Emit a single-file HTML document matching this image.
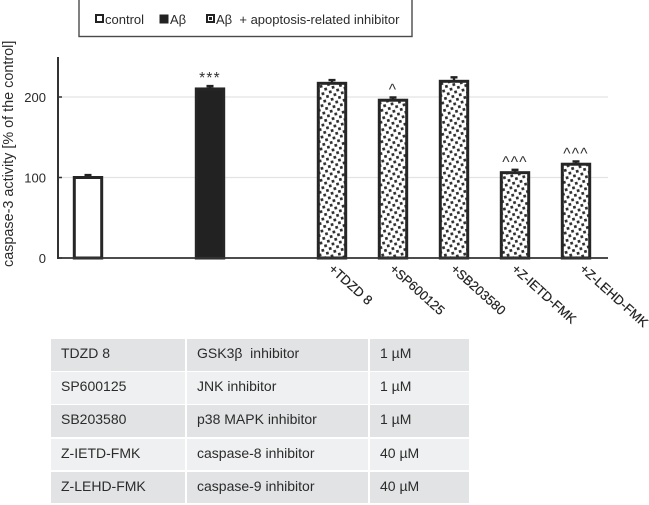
<!DOCTYPE html>
<html lang="en">
<head>
<meta charset="utf-8">
<title>Caspase-3 activity chart</title>
<style>
html,body{margin:0;padding:0;background:#fff;}
body{width:649px;height:505px;position:relative;overflow:hidden;font-family:"Liberation Sans",sans-serif;color:#2b2b2b;}
#chart{position:absolute;left:0;top:0;}
.row{position:absolute;left:51px;width:418px;height:31.5px;font-size:14px;line-height:31px;}
.cell{position:absolute;top:0;height:100%;}
.cell span{position:absolute;left:10px;top:-1px;white-space:pre;}
.c1{left:0;width:134px;}
.c2{left:136px;width:181px;}
.c3{left:319px;width:99px;}
.a .cell{background:#e1e3e5;}
.b .cell{background:#eff0f1;}
</style>
</head>
<body>
<svg id="chart" width="649" height="335" viewBox="0 0 649 335" xmlns="http://www.w3.org/2000/svg">
  <defs>
    <pattern id="dots" width="7.6" height="7.6" patternUnits="userSpaceOnUse" patternTransform="rotate(-14)">
      <rect width="7.6" height="7.6" fill="#fff"/>
      <rect x="0.5" y="0.5" width="2.7" height="2.7" fill="#2e2e2e"/>
      <rect x="4.3" y="4.3" width="2.7" height="2.7" fill="#2e2e2e"/>
    </pattern>
  </defs>
  <rect x="79" y="-2" width="333" height="38.5" fill="#fff" stroke="#4a4a4a" stroke-width="1.4"/>
  <g>
    <rect x="96" y="15" width="7" height="7" fill="#fff" stroke="#222" stroke-width="2"/>
    <text x="105" y="24" font-size="13" fill="#2b2b2b">control</text>
  </g>
  <g>
    <rect x="160" y="15" width="8" height="8" fill="#222" stroke="#222" stroke-width="1"/>
    <text x="170" y="24" font-size="13" fill="#2b2b2b">Aβ</text>
  </g>
  <g>
    <rect x="207" y="15" width="7" height="7" fill="#fff" stroke="#222" stroke-width="2"/>
    <rect x="209" y="17" width="3" height="3" fill="#222"/>
    <text x="216" y="24" font-size="13" fill="#2b2b2b" xml:space="preserve">Aβ  + apoptosis-related inhibitor</text>
  </g>
  <text transform="translate(13,267) rotate(-90)" font-size="14.4" fill="#2b2b2b">caspase-3 activity [% of the control]</text>
  <g id="plot"></g>
</svg>

<div class="row a" style="top:339px"><div class="cell c1"><span>TDZD 8</span></div><div class="cell c2"><span>GSK3β  inhibitor</span></div><div class="cell c3"><span>1 µM</span></div></div>
<div class="row b" style="top:372px"><div class="cell c1"><span>SP600125</span></div><div class="cell c2"><span>JNK inhibitor</span></div><div class="cell c3"><span>1 µM</span></div></div>
<div class="row a" style="top:405px"><div class="cell c1"><span>SB203580</span></div><div class="cell c2"><span>p38 MAPK inhibitor</span></div><div class="cell c3"><span>1 µM</span></div></div>
<div class="row b" style="top:438.5px"><div class="cell c1"><span>Z-IETD-FMK</span></div><div class="cell c2"><span>caspase-8 inhibitor</span></div><div class="cell c3"><span>40 µM</span></div></div>
<div class="row a" style="top:471.5px"><div class="cell c1"><span>Z-LEHD-FMK</span></div><div class="cell c2"><span>caspase-9 inhibitor</span></div><div class="cell c3"><span>40 µM</span></div></div>

<script>
var categories = ["control", "", "Aβ", "", "+TDZD 8", "+SP600125", "+SB203580", "+Z-IETD-FMK", "+Z-LEHD-FMK"];
var values = [100, null, 210, null, 217, 196, 219.5, 106, 116.5];
var errors = [3, null, 3.5, null, 4, 3.5, 5, 3.5, 3.5];
var kinds = ["control", "", "abeta", "", "inhibitor", "inhibitor", "inhibitor", "inhibitor", "inhibitor"];
var marks = ["", "", "***", "", "", "^", "", "^^^", "^^^"];
var yTicks = [0, 100, 200];

var NS = "http://www.w3.org/2000/svg";
var plot = document.getElementById("plot");
function xBand(i) { return 57.5 + 61 * i + 30.5; }
function yVal(v) { return 258 - v * 0.805; }
function add(tag, attrs, text) {
  var el = document.createElementNS(NS, tag);
  for (var k in attrs) el.setAttribute(k, attrs[k]);
  if (text !== undefined) el.textContent = text;
  plot.appendChild(el);
  return el;
}
yTicks.forEach(function (t) {
  if (t > 0) {
    var grid = add("line", {x1: 58, x2: 608, y1: yVal(t), y2: yVal(t), stroke: "#e3e3e3", "stroke-width": 1.2});
    
    
  }
  var tick = add("line", {x1: 58, x2: 62, y1: yVal(t), y2: yVal(t), stroke: "#333", "stroke-width": 1.5});
  
  
  var label = add("text", {x: 46, y: yVal(t) + 5, "font-size": 13, "text-anchor": "end", fill: "#2b2b2b"}, String(t));
  
  
});
values.forEach(function (v, i) {
  if (v === null) return;
  var cx = xBand(i);
  var fill = kinds[i] === "control" ? "#fff" : kinds[i] === "abeta" ? "#222" : "url(#dots)";
  var err = add("path", {
    d: "M" + cx + " " + yVal(v) + "V" + yVal(v + errors[i]) + "M" + (cx - 3.5) + " " + yVal(v + errors[i]) + "H" + (cx + 3.5),
    stroke: "#222", "stroke-width": 2.4, fill: "none"
  });
  
  
  var bar = add("rect", {x: cx - 13.7, y: yVal(v), width: 27.4, height: 258 - yVal(v), fill: fill, stroke: "#262626", "stroke-width": 3});
  
  
  if (marks[i]) {
    var sig = add("text", {
      x: cx, y: yVal(v + errors[i]) - (marks[i] === "***" ? 3 : 3),
      "font-size": 15.5, "text-anchor": "middle", fill: "#333", "letter-spacing": 1.2
    }, marks[i]);
    
    
  }
  if (kinds[i] === "inhibitor") {
    var lx = cx - 4 + (i === 8 ? 7 : 0);
    var cat = add("text", {
      transform: "translate(" + lx + ",270) rotate(42)",
      "font-size": 13, fill: "#222", stroke: "#222", "stroke-width": 0.2
    }, categories[i]);
    
    
  }
});
var yAxis = add("line", {x1: 58, x2: 58, y1: 57, y2: 259, stroke: "#333", "stroke-width": 2});


var xAxis = add("line", {x1: 57, x2: 608, y1: 258, y2: 258, stroke: "#333", "stroke-width": 1.8});


</script>
</body>
</html>
